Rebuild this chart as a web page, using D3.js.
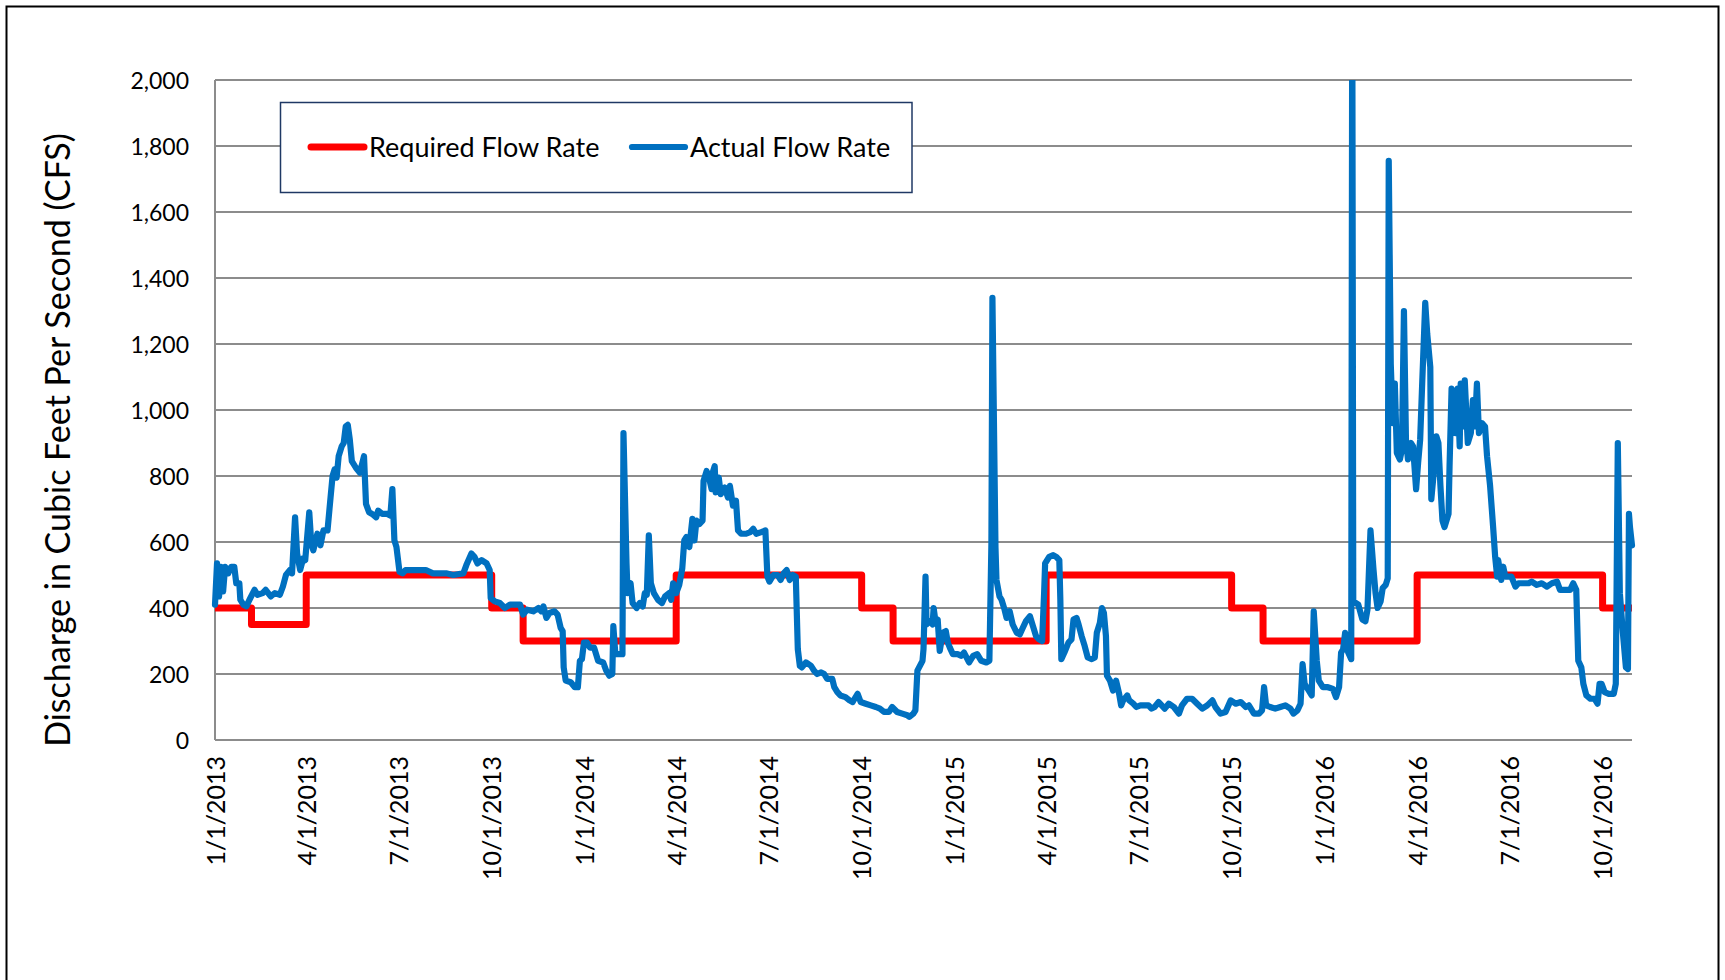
<!DOCTYPE html>
<html lang="en">
<head>
<meta charset="UTF-8">
<title>Required vs Actual Flow Rate</title>
<script src="https://cdn.jsdelivr.net/npm/d3@7"></script>
<style>
  body { margin: 0; background: #fff; }
  svg { display: block; }
  text { font-family: Lato, "Open Sans", sans-serif; fill: #000; }
</style>
</head>
<body>
<svg id="chart" width="1725" height="980"></svg>
<script>
// required flow rate: start of each period and the rate that applies from then on
var requiredDates = ["2013-01-01", "2013-02-06", "2013-04-01", "2013-10-01", "2013-11-01",
    "2014-04-01", "2014-10-01", "2014-11-01", "2015-04-01", "2015-10-01", "2015-11-01",
    "2016-04-01", "2016-10-01", "2016-10-30"];
var requiredValues = [400, 350, 500, 400, 300, 500, 400, 300, 500, 400, 300, 500, 400, 400];

// actual flow rate
var actualDates = [
    "2013-01-01", "2013-01-03", "2013-01-05", "2013-01-07", "2013-01-09", "2013-01-11", "2013-01-14", "2013-01-17", "2013-01-20", "2013-01-22", "2013-01-25", "2013-01-26", "2013-01-29",
    "2013-02-01", "2013-02-04", "2013-02-09", "2013-02-12", "2013-02-17", "2013-02-20", "2013-02-25",
    "2013-03-01", "2013-03-06", "2013-03-09", "2013-03-12", "2013-03-16", "2013-03-18", "2013-03-21", "2013-03-23", "2013-03-26", "2013-03-29", "2013-03-31",
    "2013-04-04", "2013-04-06", "2013-04-08", "2013-04-12", "2013-04-15", "2013-04-18", "2013-04-22", "2013-04-25", "2013-04-27", "2013-04-29",
    "2013-05-01", "2013-05-03", "2013-05-06", "2013-05-08", "2013-05-10", "2013-05-12", "2013-05-14", "2013-05-16", "2013-05-20", "2013-05-24", "2013-05-28", "2013-05-30",
    "2013-06-02", "2013-06-05", "2013-06-09", "2013-06-11", "2013-06-15", "2013-06-20", "2013-06-23", "2013-06-25", "2013-06-27", "2013-06-29",
    "2013-07-02", "2013-07-05", "2013-07-08", "2013-07-15", "2013-07-21", "2013-07-28",
    "2013-08-04", "2013-08-11", "2013-08-17", "2013-08-24",
    "2013-09-03", "2013-09-06", "2013-09-11", "2013-09-14", "2013-09-17", "2013-09-21", "2013-09-26", "2013-09-29", "2013-09-30",
    "2013-10-04", "2013-10-09", "2013-10-14", "2013-10-19", "2013-10-24", "2013-10-29",
    "2013-11-01", "2013-11-05", "2013-11-11", "2013-11-16", "2013-11-19", "2013-11-21", "2013-11-24", "2013-11-27",
    "2013-12-02", "2013-12-05", "2013-12-08", "2013-12-10", "2013-12-11", "2013-12-13", "2013-12-18", "2013-12-22", "2013-12-25", "2013-12-27", "2013-12-29", "2013-12-31",
    "2014-01-03", "2014-01-06", "2014-01-10", "2014-01-14", "2014-01-19", "2014-01-22", "2014-01-25", "2014-01-28", "2014-01-29", "2014-01-31",
    "2014-02-04", "2014-02-07", "2014-02-08", "2014-02-11", "2014-02-12", "2014-02-15", "2014-02-17", "2014-02-21", "2014-02-24", "2014-02-27",
    "2014-03-01", "2014-03-03", "2014-03-05", "2014-03-07", "2014-03-10", "2014-03-14", "2014-03-18", "2014-03-21", "2014-03-25", "2014-03-27", "2014-03-29",
    "2014-04-01", "2014-04-04", "2014-04-07", "2014-04-09", "2014-04-11", "2014-04-14", "2014-04-17", "2014-04-19", "2014-04-21", "2014-04-24", "2014-04-27", "2014-04-28",
    "2014-05-01", "2014-05-03", "2014-05-06", "2014-05-07", "2014-05-09", "2014-05-10", "2014-05-13", "2014-05-15", "2014-05-19", "2014-05-22", "2014-05-24", "2014-05-27", "2014-05-30",
    "2014-06-01", "2014-06-04", "2014-06-09", "2014-06-13", "2014-06-16", "2014-06-19", "2014-06-24", "2014-06-28", "2014-06-30",
    "2014-07-02", "2014-07-06", "2014-07-10", "2014-07-13", "2014-07-16", "2014-07-19", "2014-07-22", "2014-07-25", "2014-07-28", "2014-07-30",
    "2014-08-01", "2014-08-03", "2014-08-07", "2014-08-12", "2014-08-15", "2014-08-18", "2014-08-22", "2014-08-25", "2014-08-28",
    "2014-09-02", "2014-09-04", "2014-09-07", "2014-09-10", "2014-09-15", "2014-09-19", "2014-09-22", "2014-09-24", "2014-09-27", "2014-09-30",
    "2014-10-05", "2014-10-10", "2014-10-15", "2014-10-19", "2014-10-23", "2014-10-28", "2014-10-31",
    "2014-11-05", "2014-11-10", "2014-11-15", "2014-11-17", "2014-11-21", "2014-11-23", "2014-11-24", "2014-11-25", "2014-11-30",
    "2014-12-01", "2014-12-03", "2014-12-04", "2014-12-07", "2014-12-10", "2014-12-11", "2014-12-13", "2014-12-15", "2014-12-17", "2014-12-20", "2014-12-23", "2014-12-25", "2014-12-27", "2014-12-30",
    "2015-01-04", "2015-01-07", "2015-01-10", "2015-01-15", "2015-01-19", "2015-01-23", "2015-01-27",
    "2015-02-01", "2015-02-04", "2015-02-06", "2015-02-07", "2015-02-10", "2015-02-11", "2015-02-14", "2015-02-16", "2015-02-19", "2015-02-21", "2015-02-24", "2015-02-27",
    "2015-03-03", "2015-03-06", "2015-03-09", "2015-03-12", "2015-03-16", "2015-03-19", "2015-03-22", "2015-03-25", "2015-03-28", "2015-03-30", "2015-03-31",
    "2015-04-04", "2015-04-08", "2015-04-11", "2015-04-14", "2015-04-15", "2015-04-16", "2015-04-19", "2015-04-23", "2015-04-26", "2015-04-28",
    "2015-05-01", "2015-05-03", "2015-05-06", "2015-05-09", "2015-05-12", "2015-05-16", "2015-05-19", "2015-05-21", "2015-05-24", "2015-05-26", "2015-05-28", "2015-05-30", "2015-05-31",
    "2015-06-03", "2015-06-06", "2015-06-09", "2015-06-12", "2015-06-14", "2015-06-16", "2015-06-20", "2015-06-22", "2015-06-26", "2015-06-29",
    "2015-07-03", "2015-07-07", "2015-07-11", "2015-07-14", "2015-07-17", "2015-07-21", "2015-07-27", "2015-07-31",
    "2015-08-05", "2015-08-10", "2015-08-13", "2015-08-18", "2015-08-23", "2015-08-28",
    "2015-09-02", "2015-09-07", "2015-09-12", "2015-09-15", "2015-09-20", "2015-09-25", "2015-09-30",
    "2015-10-05", "2015-10-10", "2015-10-15", "2015-10-18", "2015-10-23", "2015-10-28", "2015-10-31",
    "2015-11-02", "2015-11-04", "2015-11-08", "2015-11-13", "2015-11-18", "2015-11-23", "2015-11-28",
    "2015-12-01", "2015-12-05", "2015-12-08", "2015-12-10", "2015-12-12", "2015-12-16", "2015-12-19", "2015-12-21", "2015-12-24", "2015-12-26", "2015-12-30",
    "2016-01-04", "2016-01-09", "2016-01-12", "2016-01-15", "2016-01-17", "2016-01-19", "2016-01-21", "2016-01-24", "2016-01-27", "2016-01-28", "2016-01-29",
    "2016-02-03", "2016-02-07", "2016-02-10", "2016-02-12", "2016-02-15", "2016-02-18", "2016-02-20", "2016-02-22", "2016-02-25", "2016-02-27",
    "2016-03-01", "2016-03-03", "2016-03-04", "2016-03-06", "2016-03-08", "2016-03-10", "2016-03-12", "2016-03-15", "2016-03-17", "2016-03-19", "2016-03-21", "2016-03-23", "2016-03-26", "2016-03-28", "2016-03-31",
    "2016-04-02", "2016-04-04", "2016-04-06", "2016-04-09", "2016-04-11", "2016-04-14", "2016-04-15", "2016-04-18", "2016-04-20", "2016-04-22", "2016-04-24", "2016-04-26", "2016-04-28",
    "2016-05-02", "2016-05-03", "2016-05-05", "2016-05-07", "2016-05-09", "2016-05-11", "2016-05-13", "2016-05-14", "2016-05-16", "2016-05-18", "2016-05-21", "2016-05-24", "2016-05-26", "2016-05-28", "2016-05-30",
    "2016-06-01", "2016-06-04", "2016-06-07", "2016-06-09", "2016-06-12", "2016-06-15", "2016-06-17", "2016-06-19", "2016-06-20", "2016-06-23", "2016-06-25", "2016-06-27", "2016-06-30",
    "2016-07-03", "2016-07-07", "2016-07-10", "2016-07-15", "2016-07-20", "2016-07-23", "2016-07-28",
    "2016-08-02", "2016-08-07", "2016-08-12", "2016-08-17", "2016-08-20", "2016-08-25", "2016-08-30",
    "2016-09-02", "2016-09-05", "2016-09-07", "2016-09-10", "2016-09-12", "2016-09-15", "2016-09-19", "2016-09-23", "2016-09-26", "2016-09-28", "2016-09-30",
    "2016-10-03", "2016-10-07", "2016-10-12", "2016-10-14", "2016-10-16", "2016-10-18", "2016-10-21", "2016-10-24", "2016-10-26", "2016-10-27", "2016-10-28", "2016-10-30"
];
var actualValues = [
    410, 535, 435, 525, 450, 525, 505, 525, 525, 475, 475, 425, 410,
    405, 425, 455, 440, 445, 455, 435,
    445, 440, 465, 500, 515, 505, 675, 565, 515, 550, 545,
    690, 595, 575, 625, 590, 635, 635, 735, 800, 820,
    795, 860, 890, 900, 950, 955, 910, 845, 825, 810, 860, 715,
    690, 685, 675, 695, 685, 685, 680, 760, 605, 585,
    510, 505, 515, 515, 515, 515,
    505, 505, 505, 500,
    505, 530, 565, 555, 535, 545, 535, 515, 430,
    420, 415, 400, 410, 410, 410,
    380, 395, 390, 400, 390, 405, 370, 385,
    390, 380, 340, 330, 220, 180, 175, 160, 160, 240, 245, 295,
    295, 280, 280, 240, 235, 210, 195, 200, 345, 260,
    260, 260, 930, 535, 445, 475, 415, 400, 415, 405,
    445, 440, 620, 475, 445, 425, 415, 435, 445, 425, 475,
    445, 470, 520, 605, 615, 585, 670, 605, 665, 655, 665, 785,
    815, 800, 760, 810, 830, 750, 795, 745, 765, 735, 770, 710, 725,
    635, 625, 625, 630, 640, 625, 630, 635, 495,
    480, 500, 500, 485, 505, 515, 485, 500, 495, 275,
    225, 220, 235, 225, 210, 200, 205, 200, 185,
    185, 160, 145, 135, 130, 120, 115, 125, 140, 115,
    110, 105, 100, 95, 85, 85, 100,
    85, 80, 75, 70, 80, 90, 150, 210, 240,
    275, 495, 350, 360, 350, 400, 355, 365, 270, 325, 330, 295, 280, 260,
    260, 255, 265, 235, 255, 260, 240,
    235, 240, 595, 1340, 585, 485, 435, 425, 395, 370, 390, 350,
    325, 320, 340, 360, 375, 345, 315, 305, 300, 445, 535,
    555, 560, 555, 545, 425, 245, 265, 295, 305, 365,
    370, 350, 315, 285, 250, 245, 250, 325, 355, 400, 385, 315, 195,
    180, 150, 180, 140, 105, 120, 135, 120, 110, 100,
    105, 105, 105, 95, 100, 115, 95, 110,
    100, 80, 105, 125, 125, 110,
    95, 105, 120, 100, 80, 85, 120,
    110, 115, 100, 105, 80, 80, 90,
    160, 105, 100, 95, 100, 105, 95,
    80, 90, 110, 230, 170, 150, 135, 390, 240, 180, 160,
    160, 155, 130, 160, 265, 275, 325, 265, 245, 2300, 420,
    410, 365, 360, 395, 635, 515, 445, 400, 420, 460,
    470, 490, 1755, 1140, 960, 1080, 870, 850, 880, 1300, 910, 850, 900, 890, 760,
    840, 910, 1080, 1325, 1230, 1130, 730, 830, 920, 900, 770, 665, 645,
    685, 830, 1065, 1050, 930, 1065, 890, 1080, 950, 1090, 900, 930, 1030, 950, 1080,
    930, 960, 950, 860, 770, 645, 555, 495, 545, 485, 525, 495, 495,
    495, 465, 475, 475, 475, 480, 470,
    475, 465, 475, 480, 455, 455, 455,
    475, 455, 240, 220, 170, 135, 125, 125, 110, 170, 170,
    145, 140, 140, 170, 900, 445, 325, 220, 215, 685, 645, 590
];

var yTicks = [0, 200, 400, 600, 800, 1000, 1200, 1400, 1600, 1800, 2000];
var xTickDates = ["2013-01-01", "2013-04-01", "2013-07-01", "2013-10-01", "2014-01-01", "2014-04-01",
    "2014-07-01", "2014-10-01", "2015-01-01", "2015-04-01", "2015-07-01", "2015-10-01",
    "2016-01-01", "2016-04-01", "2016-07-01", "2016-10-01"];
var seriesNames = ["Required Flow Rate", "Actual Flow Rate"];
var seriesColors = ["#ff0000", "#0070c0"];
var seriesWidths = [7, 6.2];

var parse = d3.timeParse("%Y-%m-%d");
var fmt = d3.timeFormat("%-m/%-d/%Y");

var required = requiredDates.map(function (d, i) { return { date: parse(d), value: requiredValues[i] }; });
var actual = actualDates.map(function (d, i) { return { date: parse(d), value: actualValues[i] }; });

// plot box (window.top is taken, so no plain "top" here)
var plotLeft = 215, plotRight = 1632, plotTop = 80, plotBottom = 740;

var svg = d3.select("#chart");

var x = d3.scaleTime()
    .domain([parse("2013-01-01"), parse("2016-10-30")])
    .range([plotLeft, plotRight]);
var y = d3.scaleLinear()
    .domain([0, 2000])
    .range([plotBottom, plotTop]);

// outer frame of the chart object
svg.append("rect")
    .attr("x", 6.5).attr("y", 6.5)
    .attr("width", 1712).attr("height", 1000)
    .attr("fill", "#fff")
    .attr("stroke", "#000")
    .attr("stroke-width", 2);

// horizontal gridlines
svg.append("g").selectAll("line")
    .data(yTicks)
    .join("line")
    .attr("x1", plotLeft).attr("x2", plotRight)
    .attr("y1", function (d) { return y(d); })
    .attr("y2", function (d) { return y(d); })
    .attr("stroke", "#8c8c8c")
    .attr("stroke-width", 2);

// y axis line
svg.append("line")
    .attr("x1", plotLeft).attr("x2", plotLeft)
    .attr("y1", plotTop).attr("y2", plotBottom)
    .attr("stroke", "#8c8c8c")
    .attr("stroke-width", 2);

// y axis labels
var yAxis = svg.append("g")
    .attr("transform", "translate(" + plotLeft + ",0)")
    .call(d3.axisLeft(y).tickValues(yTicks).tickFormat(d3.format(",")).tickSize(0).tickPadding(26));
yAxis.select(".domain").remove();
yAxis.selectAll("text")
    .attr("font-family", null)
    .style("font-size", "23px")
    .attr("dy", "0.36em");

// x axis labels, turned on their side
var xAxis = svg.append("g")
    .attr("transform", "translate(0," + plotBottom + ")")
    .call(d3.axisBottom(x).tickValues(xTickDates.map(parse)).tickFormat(fmt).tickSize(0));
xAxis.select(".domain").remove();
xAxis.selectAll("text")
    .attr("font-family", null)
    .style("font-size", "25px")
    .attr("transform", "rotate(-90)")
    .attr("text-anchor", "end")
    .attr("x", -16)
    .attr("y", 0)
    .attr("dy", "0.36em");

// axis title
svg.append("text")
    .attr("transform", "translate(70,440) rotate(-90)")
    .attr("text-anchor", "middle")
    .style("font-size", "34px")
    .text("Discharge in Cubic Feet Per Second (CFS)");

// lines are cut at the top of the plot like the spreadsheet does
svg.append("clipPath").attr("id", "plotclip")
    .append("rect")
    .attr("x", 0).attr("y", plotTop)
    .attr("width", 1725).attr("height", 700);

var plot = svg.append("g").attr("clip-path", "url(#plotclip)");

plot.append("path")
    .datum(required)
    .attr("fill", "none")
    .attr("stroke", seriesColors[0])
    .attr("stroke-width", seriesWidths[0])
    .attr("stroke-linejoin", "round")
    .attr("d", d3.line()
        .curve(d3.curveStepAfter)
        .x(function (d) { return x(d.date); })
        .y(function (d) { return y(d.value); }));

plot.append("path")
    .datum(actual)
    .attr("fill", "none")
    .attr("stroke", seriesColors[1])
    .attr("stroke-width", seriesWidths[1])
    .attr("stroke-linejoin", "round")
    .attr("stroke-linecap", "round")
    .attr("d", d3.line()
        .x(function (d) { return x(d.date); })
        .y(function (d) { return y(d.value); }));

// legend
var legend = svg.append("g");
legend.append("rect")
    .attr("x", 280.5).attr("y", 102.5)
    .attr("width", 631.5).attr("height", 90)
    .attr("fill", "#fff")
    .attr("stroke", "#1f3864")
    .attr("stroke-width", 1.5);

var legendX = [311, 632];
seriesNames.forEach(function (name, i) {
    legend.append("line")
        .attr("x1", legendX[i]).attr("x2", legendX[i] + 53)
        .attr("y1", 147).attr("y2", 147)
        .attr("stroke", seriesColors[i])
        .attr("stroke-width", seriesWidths[i])
        .attr("stroke-linecap", "round");
    legend.append("text")
        .attr("x", legendX[i] + 58)
        .attr("y", 147)
        .attr("dy", "0.36em")
        .style("font-size", "27px")
        .text(name);
});
</script>
</body>
</html>
